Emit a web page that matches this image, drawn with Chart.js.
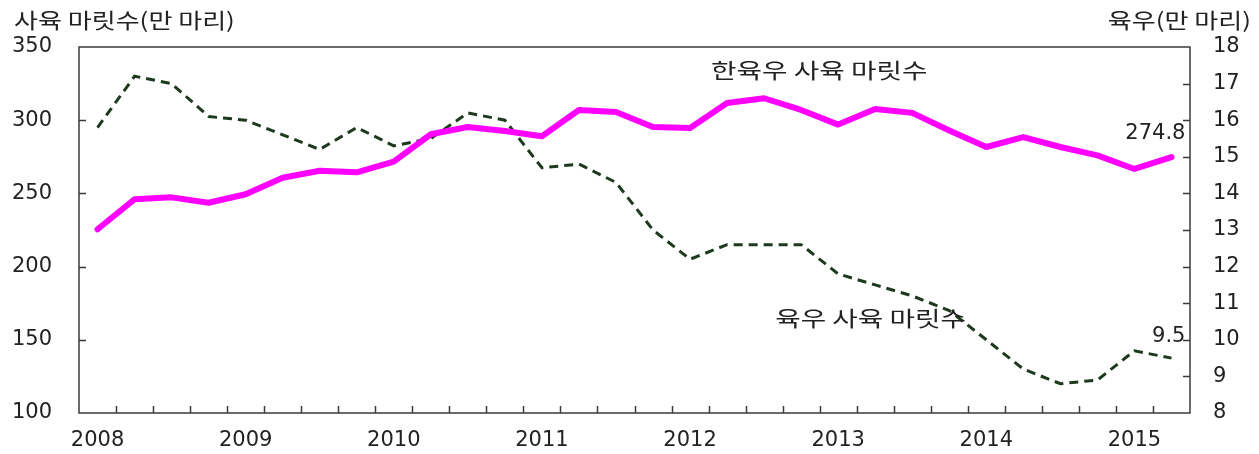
<!DOCTYPE html>
<html>
<head>
<meta charset="utf-8">
<script src="https://cdn.jsdelivr.net/npm/chart.js@4"></script>
<style>
  html, body { margin: 0; padding: 0; background: #fff; }
  #wrap { width: 1259px; height: 454px; position: relative; }
</style>
</head>
<body>
<div id="wrap"><canvas id="c"></canvas></div>
<script>
// 분기 (2008Q1 ~ 2015Q2)
const quarters = [
  '2008Q1','2008Q2','2008Q3','2008Q4','2009Q1','2009Q2','2009Q3','2009Q4',
  '2010Q1','2010Q2','2010Q3','2010Q4','2011Q1','2011Q2','2011Q3','2011Q4',
  '2012Q1','2012Q2','2012Q3','2012Q4','2013Q1','2013Q2','2013Q3','2013Q4',
  '2014Q1','2014Q2','2014Q3','2014Q4','2015Q1','2015Q2'
];
// 한육우 사육 마릿수 (만 마리, 왼쪽 축)
const hanwooHeads = [
  225.5, 246.0, 247.3, 243.6, 249.4, 260.7, 265.5, 264.4,
  271.7, 290.4, 295.4, 292.6, 289.0, 307.0, 305.6, 295.4,
  294.7, 311.7, 315.0, 307.0, 297.0, 307.7, 305.0, 293.0,
  281.7, 288.5, 281.7, 276.0, 266.7, 274.8
];
// 육우 사육 마릿수 (만 마리, 오른쪽 축)
const beefHeads = [
  15.8, 17.2, 17.0, 16.1, 16.0, 15.6, 15.2, 15.8,
  15.3, 15.5, 16.2, 16.0, 14.7, 14.8, 14.3, 13.0,
  12.2, 12.6, 12.6, 12.6, 11.8, 11.5, 11.2, 10.8,
  10.0, 9.2, 8.8, 8.9, 9.7, 9.5
];
const leftTicks = [100, 150, 200, 250, 300, 350];
const rightTicks = [8, 9, 10, 11, 12, 13, 14, 15, 16, 17, 18];

const numFont = { family: '"DejaVu Sans", sans-serif', size: 21 };
const krFont = '"Noto Sans CJK KR", sans-serif';
const axisColor = '#3a3a3a';

// 축 틀 + 안쪽 눈금
const framePlugin = {
  id: 'frame',
  afterDatasetsDraw(chart) {
    const { ctx, chartArea: a, scales } = chart;
    ctx.save();
    ctx.strokeStyle = axisColor;
    ctx.lineWidth = 1.5;
    ctx.strokeRect(a.left, a.top, a.right - a.left, a.bottom - a.top);
    ctx.beginPath();
    const x = scales.x;
    for (let i = 1; i < quarters.length; i++) {
      const px = Math.round((x.getPixelForValue(i - 1) + x.getPixelForValue(i)) / 2) + 0.5;
      ctx.moveTo(px, a.bottom);
      ctx.lineTo(px, a.bottom - 7);
    }
    leftTicks.slice(1, -1).forEach(v => {
      const py = Math.round(scales.y.getPixelForValue(v)) + 0.5;
      ctx.moveTo(a.left, py);
      ctx.lineTo(a.left + 7, py);
    });
    rightTicks.slice(1, -1).forEach(v => {
      const py = Math.round(scales.y1.getPixelForValue(v)) + 0.5;
      ctx.moveTo(a.right, py);
      ctx.lineTo(a.right - 7, py);
    });
    ctx.stroke();
    ctx.restore();
  }
};

// 가로로 조금 늘린 글자
function wideText(ctx, text, x, y, align, sx) {
  const w = ctx.measureText(text).width * sx;
  let left = x;
  if (align === 'right') left = x - w;
  if (align === 'center') left = x - w / 2;
  ctx.save();
  ctx.translate(left, y);
  ctx.scale(sx, 1);
  ctx.textAlign = 'left';
  ctx.fillText(text, 0, 0);
  ctx.restore();
}

// 축 제목, 시리즈 이름, 마지막 값
const textPlugin = {
  id: 'texts',
  afterDraw(chart) {
    const { ctx, scales } = chart;
    const x = scales.x, y = scales.y, y1 = scales.y1;
    const last = quarters.length - 1;
    ctx.save();
    ctx.fillStyle = '#222';
    ctx.textBaseline = 'middle';
    ctx.font = '21px ' + krFont;
    wideText(ctx, '사육 마릿수(만 마리)', 14, 20, 'left', 1.24);
    wideText(ctx, '육우(만 마리)', 1251, 20, 'right', 1.24);
    wideText(ctx, '한육우 사육 마릿수', x.getPixelForValue(17) - 16, y.getPixelForValue(334), 'left', 1.32);
    wideText(ctx, '육우 사육 마릿수', x.getPixelForValue(19) - 26, y1.getPixelForValue(10.6), 'left', 1.32);
    ctx.font = '21px ' + numFont.family;
    ctx.textAlign = 'right';
    ctx.fillText(hanwooHeads[last].toFixed(1), x.getPixelForValue(last) + 14, y.getPixelForValue(hanwooHeads[last]) - 24);
    ctx.fillText(beefHeads[last].toFixed(1), x.getPixelForValue(last) + 14, y1.getPixelForValue(beefHeads[last]) - 22);
    ctx.restore();
  }
};

new Chart(document.getElementById('c'), {
  type: 'line',
  data: {
    labels: quarters,
    datasets: [
      {
        label: '한육우 사육 마릿수',
        data: hanwooHeads,
        yAxisID: 'y',
        borderColor: '#ff00ff',
        borderWidth: 6,
        pointRadius: 0,
        tension: 0,
        borderJoinStyle: 'round',
        borderCapStyle: 'round'
      },
      {
        label: '육우 사육 마릿수',
        data: beefHeads,
        yAxisID: 'y1',
        borderColor: '#1e3a1e',
        borderWidth: 3,
        borderDash: [9, 6],
        pointRadius: 0,
        tension: 0
      }
    ]
  },
  options: {
    responsive: true,
    maintainAspectRatio: false,
    animation: false,
    layout: { padding: { top: 47, left: 0, right: 0, bottom: 0 } },
    plugins: { legend: { display: false }, tooltip: { enabled: false } },
    scales: {
      x: {
        type: 'category',
        offset: true,
        grid: { display: false, drawTicks: false },
        border: { display: false },
        ticks: {
          autoSkip: false,
          maxRotation: 0,
          padding: 15,
          color: '#222',
          font: numFont,
          callback: (v, i) => (i % 4 === 0 ? quarters[i].slice(0, 4) : '')
        },
        afterFit: s => { s.height = 41; }
      },
      y: {
        position: 'left',
        min: 100,
        max: 350,
        afterBuildTicks: s => { s.ticks = leftTicks.map(v => ({ value: v })); },
        grid: { display: false, drawTicks: false },
        border: { display: false },
        ticks: { padding: 27, color: '#222', font: numFont },
        afterFit: s => { s.width = 79; }
      },
      y1: {
        position: 'right',
        min: 8,
        max: 18,
        afterBuildTicks: s => { s.ticks = rightTicks.map(v => ({ value: v })); },
        grid: { display: false, drawTicks: false },
        border: { display: false },
        ticks: { padding: 23, color: '#222', font: numFont },
        afterFit: s => { s.width = 69; }
      }
    }
  },
  plugins: [framePlugin, textPlugin]
});
</script>
</body>
</html>
